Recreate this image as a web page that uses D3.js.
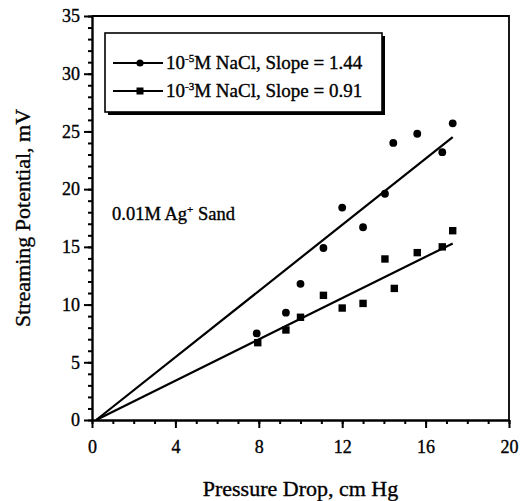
<!DOCTYPE html>
<html>
<head>
<meta charset="utf-8">
<script src="https://cdn.jsdelivr.net/npm/d3@7"></script>
<style>
  body { margin: 0; background: #fff; }
  svg text { font-family: "Liberation Serif", "Times New Roman", serif; fill: #000; stroke: #000; stroke-width: 0.35; }
  .axis path, .axis line { stroke: #000; }
</style>
</head>
<body>
<script>
// 10^-5 M NaCl (circles)
var pressure1 = [7.9, 9.3, 10.0, 11.1, 12.0, 13.0, 14.05, 14.45, 15.6, 16.8, 17.3];
var potential1 = [7.5, 9.3, 11.8, 14.9, 18.4, 16.7, 19.6, 24.0, 24.8, 23.2, 25.7];
// 10^-3 M NaCl (squares)
var pressure2 = [7.95, 9.3, 10.0, 11.1, 12.0, 13.0, 14.05, 14.5, 15.6, 16.8, 17.3];
var potential2 = [6.7, 7.8, 8.9, 10.8, 9.7, 10.1, 13.95, 11.4, 14.5, 15.0, 16.4];
// fitted lines
var fitX = [0.2, 17.3];
var fit1Y = [0, 24.5];
var fit2Y = [0, 15.3];

var exponents = ["-5", "-3"];
var slopes = ["1.44", "0.91"];
var xTicks = [0, 4, 8, 12, 16, 20];
var yTicks = [0, 5, 10, 15, 20, 25, 30, 35];

var width = 520, height = 501;
var margin = {top: 16, right: 11, bottom: 81, left: 92};

var x = d3.scaleLinear().domain([0, 20]).range([margin.left, width - margin.right]);
var y = d3.scaleLinear().domain([0, 35]).range([height - margin.bottom, margin.top]);

var svg = d3.select("body").append("svg")
    .attr("width", width)
    .attr("height", height);

// frame top / right
svg.append("path")
    .attr("d", "M" + x(0) + "," + y(35) + "H" + x(20) + "V" + y(0))
    .attr("fill", "none")
    .attr("stroke", "#000")
    .attr("stroke-width", 1.8);

// minor ticks
svg.append("g")
    .attr("class", "axis")
    .attr("transform", "translate(0," + y(0) + ")")
    .call(d3.axisBottom(x).tickValues(d3.range(0, 21, 1)).tickSize(4).tickFormat(""))
    .call(function(g) { g.select(".domain").remove(); })
    .selectAll("line").attr("stroke-width", 2);

svg.append("g")
    .attr("class", "axis")
    .attr("transform", "translate(" + x(0) + ",0)")
    .call(d3.axisLeft(y).tickValues(d3.range(0, 36, 1)).tickSize(4).tickFormat(""))
    .call(function(g) { g.select(".domain").remove(); })
    .selectAll("line").attr("stroke-width", 2);

// major ticks + labels
var xAxis = svg.append("g")
    .attr("class", "axis")
    .attr("transform", "translate(0," + y(0) + ")")
    .call(d3.axisBottom(x).tickValues(xTicks).tickSize(8).tickSizeOuter(0).tickPadding(12));
xAxis.select(".domain").attr("stroke-width", 2.4);
xAxis.selectAll("line").attr("stroke-width", 2);
xAxis.selectAll("text").attr("font-size", 18).style("font-family", "Liberation Serif");

var yAxis = svg.append("g")
    .attr("class", "axis")
    .attr("transform", "translate(" + x(0) + ",0)")
    .call(d3.axisLeft(y).tickValues(yTicks).tickSize(8).tickSizeOuter(0).tickPadding(4));
yAxis.select(".domain").attr("stroke-width", 2.4);
yAxis.selectAll("line").attr("stroke-width", 2);
yAxis.selectAll("text").attr("font-size", 18).style("font-family", "Liberation Serif");

// axis titles
svg.append("text")
    .attr("x", (x(0) + x(20)) / 2)
    .attr("y", 496)
    .attr("text-anchor", "middle")
    .attr("font-size", 22)
    .text("Pressure Drop, cm Hg");

svg.append("text")
    .attr("transform", "translate(30," + (y(0) + y(35)) / 2 + ") rotate(-90)")
    .attr("text-anchor", "middle")
    .attr("font-size", 22)
    .text("Streaming Potential, mV");

// fit lines
var line = d3.line()
    .x(function(d) { return x(d[0]); })
    .y(function(d) { return y(d[1]); });

[fit1Y, fit2Y].forEach(function(fy) {
  svg.append("path")
      .attr("d", line(fitX.map(function(v, i) { return [v, fy[i]]; })))
      .attr("fill", "none")
      .attr("stroke", "#000")
      .attr("stroke-width", 2.2);
});

// points
svg.append("g").selectAll("circle")
    .data(d3.range(pressure1.length))
  .enter().append("circle")
    .attr("cx", function(i) { return x(pressure1[i]); })
    .attr("cy", function(i) { return y(potential1[i]); })
    .attr("r", 3.9)
    .attr("fill", "#000");

svg.append("g").selectAll("rect")
    .data(d3.range(pressure2.length))
  .enter().append("rect")
    .attr("x", function(i) { return x(pressure2[i]) - 3.7; })
    .attr("y", function(i) { return y(potential2[i]) - 3.7; })
    .attr("width", 7.4)
    .attr("height", 7.4)
    .attr("fill", "#000");

// annotation
var ann = svg.append("text")
    .attr("x", 112)
    .attr("y", 220)
    .attr("font-size", 18.5);
ann.append("tspan").text("0.01M Ag");
ann.append("tspan").attr("dy", -7).attr("font-size", 11).text("+");
ann.append("tspan").attr("dy", 7).text(" Sand");

// legend
var legend = svg.append("g");
legend.append("rect")
    .attr("x", 108).attr("y", 36).attr("width", 277).attr("height", 79)
    .attr("fill", "#000");
legend.append("rect")
    .attr("x", 105).attr("y", 33).attr("width", 277).attr("height", 79)
    .attr("fill", "#fff").attr("stroke", "#000").attr("stroke-width", 1.6);

var rows = legend.selectAll(".row")
    .data(exponents)
  .enter().append("g")
    .attr("class", "row")
    .attr("transform", function(d, i) { return "translate(0," + (63 + i * 28) + ")"; });

rows.append("line")
    .attr("x1", 113).attr("x2", 163)
    .attr("stroke", "#000").attr("stroke-width", 1.8);

rows.each(function(d, i) {
  var r = d3.select(this);
  if (i === 0) r.append("circle").attr("cx", 140).attr("r", 3.6).attr("fill", "#000");
  else r.append("rect").attr("x", 136.5).attr("y", -3.5).attr("width", 7).attr("height", 7).attr("fill", "#000");
  var t = r.append("text").attr("x", 166).attr("y", 6).attr("font-size", 19);
  t.append("tspan").text("10");
  t.append("tspan").attr("dy", -7).attr("font-size", 11).text(d);
  t.append("tspan").attr("dy", 7).text("M NaCl, Slope = " + slopes[i]);
});
</script>
</body>
</html>
